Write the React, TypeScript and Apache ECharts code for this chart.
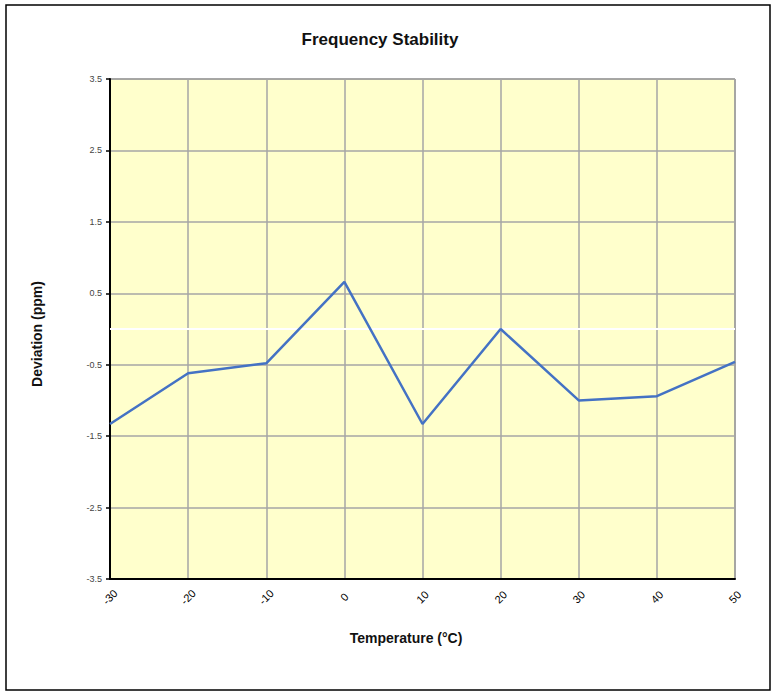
import React, { useEffect, useRef } from "react";
import * as echarts from "echarts";

const temperatures = [-30, -20, -10, 0, 10, 20, 30, 40, 50];
const deviation = [-1.33, -0.62, -0.48, 0.66, -1.33, 0.0, -1.0, -0.94, -0.46];
const chartTitle = "Frequency Stability";
const xTitle = "Temperature (°C)";
const yTitle = "Deviation (ppm)";

export default function App() {
  const ref = useRef<HTMLDivElement>(null);
  useEffect(() => {
    document.body.style.margin = "0";
    const chart = echarts.init(ref.current!, null, { renderer: "svg" });
    const font = "Liberation Sans, Arial, sans-serif";
    chart.setOption({
      animation: false,
      backgroundColor: "#ffffff",
      graphic: [
        {
          type: "rect",
          shape: { x: 6, y: 5, width: 764, height: 685 },
          style: { fill: "none", stroke: "#000", lineWidth: 1.5 },
          silent: true,
          z: 100,
        },
        {
          type: "text",
          x: 380,
          y: 39,
          style: {
            text: chartTitle,
            align: "center",
            verticalAlign: "middle",
            font: `bold 17px ${font}`,
            fill: "#111",
          },
          silent: true,
        },
        {
          type: "text",
          x: 406,
          y: 638,
          style: {
            text: xTitle,
            align: "center",
            verticalAlign: "middle",
            font: `bold 14px ${font}`,
            fill: "#111",
          },
          silent: true,
        },
        {
          type: "text",
          x: 37,
          y: 334,
          rotation: Math.PI / 2,
          style: {
            text: yTitle,
            align: "center",
            verticalAlign: "middle",
            font: `bold 14px ${font}`,
            fill: "#111",
          },
          silent: true,
        },
      ],
      grid: {
        left: 110,
        right: 40,
        top: 79,
        bottom: 117,
        show: true,
        backgroundColor: "#FFFFCC",
        borderColor: "#555",
        borderWidth: 1,
      },
      xAxis: {
        type: "value",
        min: -30,
        max: 50,
        interval: 10,
        axisLine: { show: true, onZero: false, lineStyle: { color: "#000", width: 2 } },
        axisTick: { show: false },
        axisLabel: {
          rotate: 45,
          align: "center",
          verticalAlign: "middle",
          margin: 18,
          fontFamily: font,
          fontSize: 11,
          color: "#000",
        },
        splitLine: { show: true, lineStyle: { color: "#A6A6A6", width: 1.5 } },
      },
      yAxis: {
        type: "value",
        min: -3.5,
        max: 3.5,
        interval: 1,
        axisLine: { show: true, onZero: false, lineStyle: { color: "#000", width: 2 } },
        axisTick: { show: true, length: 4, lineStyle: { color: "#000", width: 1.5 } },
        axisLabel: {
          margin: 8,
          fontFamily: font,
          fontSize: 9,
          color: "#444",
          formatter: (v: number) => v.toFixed(1),
        },
        splitLine: { show: true, lineStyle: { color: "#A6A6A6", width: 1.5 } },
      },
      series: [
        {
          type: "line",
          data: temperatures.map((t, i) => [t, deviation[i]]),
          symbol: "none",
          lineStyle: { color: "#4472C4", width: 2.5 },
          markLine: {
            silent: true,
            symbol: ["none", "none"],
            label: { show: false },
            lineStyle: { color: "#ffffff", width: 2, type: "solid" },
            data: [{ yAxis: 0 }],
            z: 1,
          },
          z: 3,
        },
      ],
    });
    return () => chart.dispose();
  }, []);
  return <div ref={ref} style={{ width: 775, height: 696 }} />;
}
